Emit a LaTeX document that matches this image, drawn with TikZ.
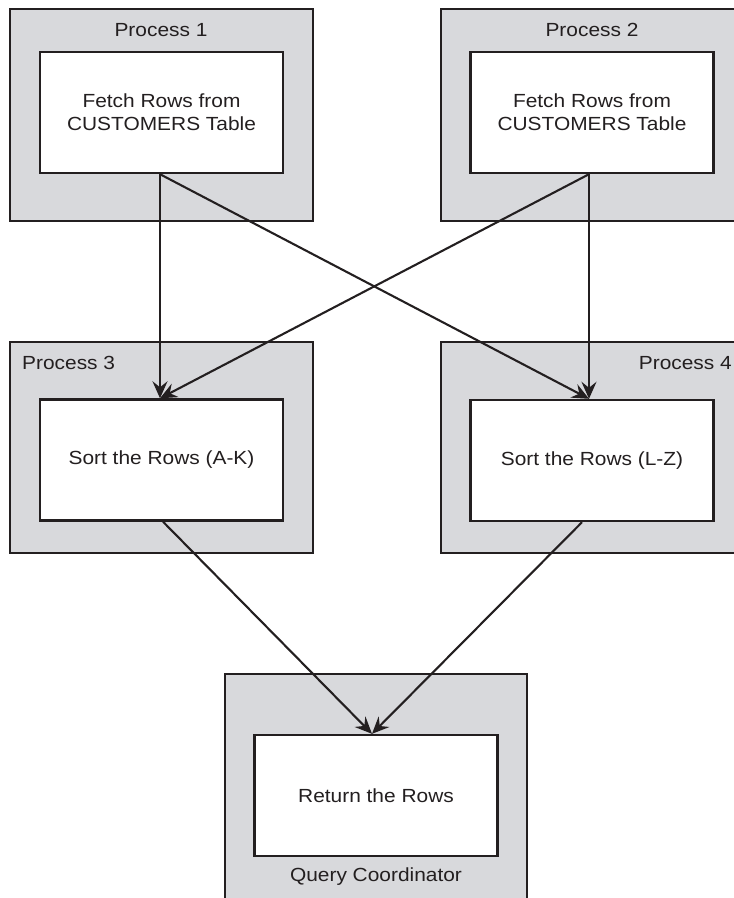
\documentclass[tikz,border=0pt]{standalone}
\usepackage{fontspec}
\setmainfont[FakeStretch=1.1]{Liberation Sans}
\usetikzlibrary{arrows.meta}
\definecolor{boxgray}{RGB}{216,217,220}
\definecolor{ink}{RGB}{35,31,32}
\begin{document}
\begin{tikzpicture}[x=1pt,y=-1pt,
  outerbox/.style={draw=ink, fill=boxgray, line width=2.4pt, rectangle, inner sep=0pt},
  innerbox/.style={draw=ink, fill=white, line width=2.4pt, rectangle, minimum width=243pt, minimum height=121pt, inner sep=0pt, align=center, text=ink, font=\fontsize{19}{22.6}\selectfont},
  lbl/.style={font=\fontsize{19}{22.6}\selectfont, text=ink, inner sep=0pt},
  flow/.style={draw=ink, line width=2.1pt, -{Stealth[length=17pt,width=15pt,inset=6pt]}}]
\useasboundingbox (0,0) rectangle (734,898);
\clip (0,0) rectangle (734,898);

% outer process boxes
\node[outerbox, minimum width=303pt, minimum height=212pt] (p1) at (161.5,115) {};
\node[outerbox, minimum width=303pt, minimum height=212pt] (p2) at (592.5,115) {};
\node[outerbox, minimum width=303pt, minimum height=211pt] (p3) at (161.5,447.5) {};
\node[outerbox, minimum width=303pt, minimum height=211pt] (p4) at (592.5,447.5) {};
\node[outerbox, minimum width=302pt, minimum height=246pt] (qc) at (376,797) {};

% labels
\node[lbl, anchor=base] (l1) at (161,36) {Process 1};
\node[lbl, anchor=base] (l2) at (592,36) {Process 2};
\node[lbl, anchor=base west] (l3) at (22,369) {Process 3};
\node[lbl, anchor=base east] (l4) at (732,369) {Process 4};
\node[lbl, anchor=base] (lq) at (376,881.5) {Query Coordinator};

% inner boxes
\node[innerbox] (f1) at (161.5,112.5) {Fetch Rows from\\CUSTOMERS Table};
\node[innerbox] (f2) at (592,112.5) {Fetch Rows from\\CUSTOMERS Table};
\node[innerbox] (s3) at (161.5,460) {Sort the Rows (A-K)};
\node[innerbox] (s4) at (592,460.5) {Sort the Rows (L-Z)};
\node[innerbox] (r) at (376,795.5) {Return the Rows};

% connectors
\draw[flow] ([xshift=-1.5pt]f1.south) -- ([xshift=-1.5pt]s3.north);
\draw[flow] ([xshift=-1.5pt]f1.south) -- ([xshift=-3pt]s4.north);
\draw[flow] ([xshift=-3pt]f2.south) -- ([xshift=-1.5pt]s3.north);
\draw[flow] ([xshift=-3pt]f2.south) -- ([xshift=-3pt]s4.north);
\draw[flow] ([xshift=1.5pt]s3.south) -- ([xshift=-4pt]r.north);
\draw[flow] ([xshift=-10pt]s4.south) -- ([xshift=-4pt]r.north);
\end{tikzpicture}
\end{document}
